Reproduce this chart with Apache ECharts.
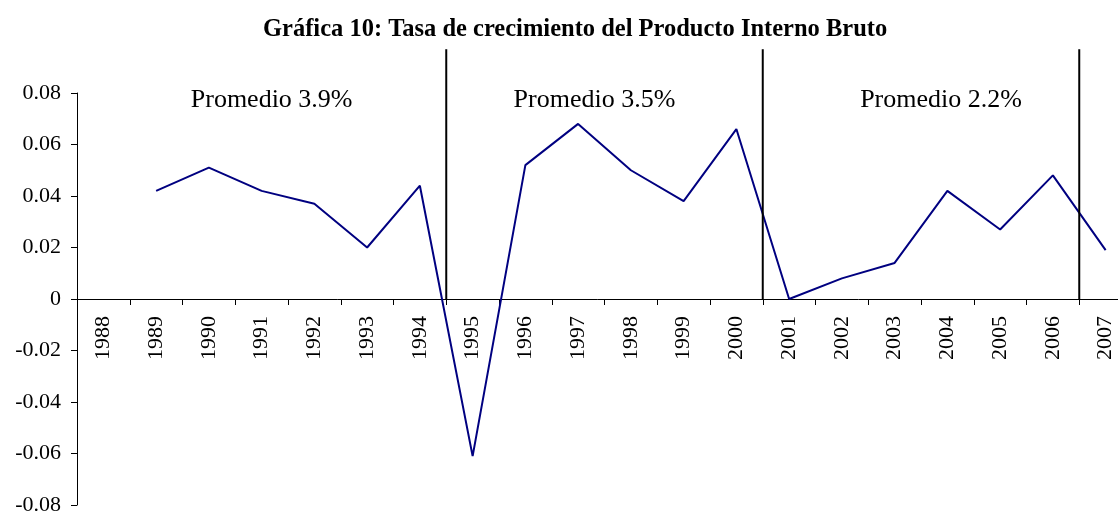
<!DOCTYPE html>
<html>
<head>
<meta charset="utf-8">
<script src="https://cdn.jsdelivr.net/npm/echarts@6/dist/echarts.min.js"></script>
<style>
	html, body { margin: 0; padding: 0; background: #fff; }
	#grafica { width: 1118px; height: 515px; }
</style>
</head>
<body>
<div id="grafica"></div>
<script>
// Años del eje horizontal
const años = ['1988', '1989', '1990', '1991', '1992', '1993', '1994', '1995', '1996', '1997',
	'1998', '1999', '2000', '2001', '2002', '2003', '2004', '2005', '2006', '2007']
// Tasa de crecimiento del PIB (1988 sin dato)
const crecimiento = [null, 0.042, 0.051, 0.042, 0.037, 0.020, 0.044, -0.061, 0.052, 0.068,
	0.050, 0.038, 0.066, 0.000, 0.008, 0.014, 0.042, 0.027, 0.048, 0.019]
// Cortes entre periodos (en unidades de categoría) y su altura
const cortes = [7, 13, 19]
const alturaCorte = 0.097
// Promedios de cada periodo
const promedios = ['Promedio 3.9%', 'Promedio 3.5%', 'Promedio 2.2%']
const posPromedio = [3.69, 9.81, 16.38]
const altoPromedio = 0.0773

const fuente = 'Liberation Serif'
const chart = echarts.init(document.getElementById('grafica'))

// Alto del área de trazado y desplazamiento del eje X hasta el cero
const gridTop = 93
const gridBottom = 10
const altoGrid = 515 - gridTop - gridBottom
const desplazamientoCero = -altoGrid / 2

// Líneas verticales de separación
const seriesCortes = cortes.map((x) => ({
	type: 'line',
	xAxisIndex: 1,
	yAxisIndex: 0,
	data: [[x, 0], [x, alturaCorte]],
	symbol: 'none',
	clip: false,
	silent: true,
	lineStyle: { color: '#000', width: 2 },
}))

chart.setOption({
	animation: false,
	title: {
		text: 'Gráfica 10: Tasa de crecimiento del Producto Interno Bruto',
		left: 258,
		top: 12,
		textStyle: { fontFamily: fuente, fontSize: 24.5, fontWeight: 'bold', color: '#000' },
	},
	grid: {
		left: 77,
		right: -14,
		top: gridTop,
		bottom: gridBottom,
		containLabel: false,
		outerBoundsMode: 'none',
	},
	xAxis: [
		{
			type: 'category',
			data: años,
			boundaryGap: true,
			position: 'bottom',
			offset: desplazamientoCero,
			axisLine: { onZero: false, lineStyle: { color: '#000', width: 1 } },
			axisTick: {
				show: true,
				interval: 0,
				alignWithLabel: false,
				length: 6,
				lineStyle: { color: '#000', width: 1 },
			},
			axisLabel: {
				rotate: 90,
				interval: 0,
				margin: 17,
				fontFamily: fuente,
				fontSize: 22,
				color: '#000',
			},
			splitLine: { show: false },
		},
		{ type: 'value', min: 0, max: 20, show: false },
	],
	yAxis: {
		type: 'value',
		min: -0.08,
		max: 0.08,
		interval: 0.02,
		axisLine: { show: true, lineStyle: { color: '#000', width: 1 } },
		axisTick: { show: true, length: 6, lineStyle: { color: '#000' } },
		axisLabel: {
			margin: 16,
			fontFamily: fuente,
			fontSize: 22,
			color: '#000',
			formatter: (v) => (Math.abs(v) < 1e-9 ? '0' : v.toFixed(2)),
		},
		splitLine: { show: false },
	},
	series: [
		{
			name: 'Crecimiento',
			type: 'line',
			data: crecimiento,
			symbol: 'none',
			lineStyle: { color: '#000080', width: 2 },
		},
		...seriesCortes,
		{
			type: 'scatter',
			xAxisIndex: 1,
			yAxisIndex: 0,
			symbolSize: 0,
			silent: true,
			itemStyle: { opacity: 1 },
			data: posPromedio.map((x) => [x, altoPromedio]),
			label: {
				show: true,
				position: 'inside',
				formatter: (p) => promedios[p.dataIndex],
				fontFamily: fuente,
				fontSize: 26,
				color: '#000',
				opacity: 1,
				textBorderWidth: 0,
			},
		},
	],
})
</script>
</body>
</html>
